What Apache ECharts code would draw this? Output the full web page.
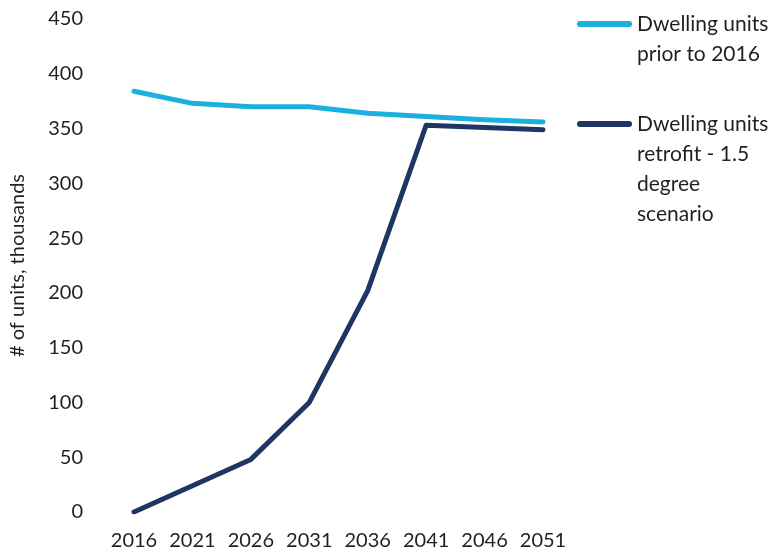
<!DOCTYPE html>
<html>
<head>
<meta charset="utf-8">
<script src="https://cdn.jsdelivr.net/npm/echarts@6/dist/echarts.min.js"></script>
<style>
  html, body { margin: 0; padding: 0; background: #fff; }
  #chart { width: 773px; height: 554px; }
</style>
</head>
<body>
<div id="chart"></div>
<script>
// Years on the horizontal axis
const years = ['2016', '2021', '2026', '2031', '2036', '2041', '2046', '2051'];
// Dwelling units built before 2016 (thousands)
const priorTo2016 = [384, 373, 370, 370, 364, 361, 358, 356];
// Dwelling units retrofitted under the 1.5 degree scenario (thousands)
const retrofit15 = [0, 24, 48, 100, 202, 353, 351, 349];

const nameA = 'Dwelling units prior to 2016';
const nameB = 'Dwelling units retrofit - 1.5 degree scenario';

const FONT = 'Lato, "Noto Sans", sans-serif';
const TEXT = '#231f20';
const CYAN = '#1bb1de';
const NAVY = '#1f3563';

const chart = echarts.init(document.getElementById('chart'));

// Legend text is centred on its icon; blank lines above keep the icon level with the first line.
function legendBlock(lines) {
  const pad = lines.length - 1;
  return '\n'.repeat(pad) + lines.join('\n');
}

const legendCommon = {
  orient: 'vertical',
  left: 577,
  padding: 0,
  itemWidth: 55,
  itemHeight: 6,
  icon: 'path://M3,0 H52 A3,3 0 0 1 52,6 H3 A3,3 0 0 1 3,0 Z',
  selectedMode: false,
  textStyle: { fontFamily: FONT, fontSize: 21, color: TEXT, lineHeight: 30 }
};

chart.setOption({
  animation: false,
  backgroundColor: '#ffffff',
  grid: { left: 128, right: 230, top: 19, bottom: 42, containLabel: false },
  legend: [
    Object.assign({}, legendCommon, {
      top: 24 - 45,
      data: [nameA],
      formatter: () => legendBlock(['Dwelling units', 'prior to 2016'])
    }),
    Object.assign({}, legendCommon, {
      top: 124 - 105,
      data: [nameB],
      formatter: () => legendBlock(['Dwelling units', 'retrofit - 1.5', 'degree', 'scenario'])
    })
  ],
  xAxis: {
    type: 'category',
    data: years,
    boundaryGap: false,
    axisLine: { show: false },
    axisTick: { show: false },
    axisLabel: { fontFamily: FONT, fontSize: 20, color: TEXT, margin: 19, interval: 0, hideOverlap: false }
  },
  yAxis: {
    type: 'value',
    min: 0,
    max: 450,
    interval: 50,
    name: '# of units, thousands',
    nameLocation: 'middle',
    nameGap: 106,
    nameRotate: 90,
    nameTextStyle: { fontFamily: FONT, fontSize: 20, color: TEXT },
    splitLine: { show: false },
    axisLine: { show: false },
    axisTick: { show: false },
    axisLabel: { fontFamily: FONT, fontSize: 20, color: TEXT, margin: 51 }
  },
  series: [
    {
      name: nameA,
      type: 'line',
      data: priorTo2016,
      symbol: 'none',
      color: CYAN,
      lineStyle: { width: 5, color: CYAN, cap: 'round', join: 'round' }
    },
    {
      name: nameB,
      type: 'line',
      data: retrofit15,
      symbol: 'none',
      color: NAVY,
      lineStyle: { width: 5, color: NAVY, cap: 'round', join: 'round' }
    }
  ]
});
</script>
</body>
</html>
